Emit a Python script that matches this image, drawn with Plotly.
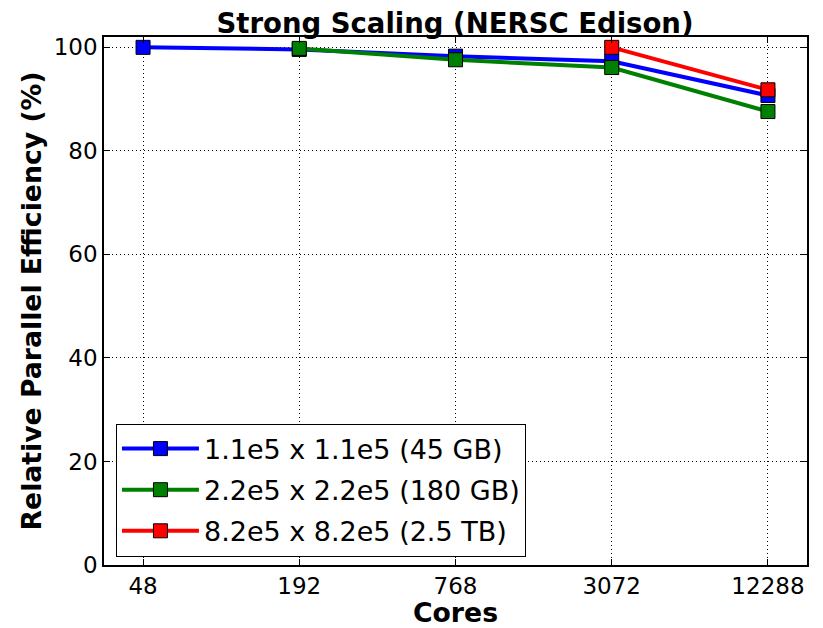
import plotly.graph_objects as go
import numpy as np

# cores on x, relative parallel efficiency (%) on y
cores = [48, 192, 768, 3072, 12288]
tick_labels = ['48', '192', '768', '3072', '12288']

cores_45gb = [48, 192, 768, 3072, 12288]
eff_45gb = [100.0, 99.6, 98.3, 97.3, 90.7]

cores_180gb = [192, 768, 3072, 12288]
eff_180gb = [99.8, 97.6, 96.1, 87.6]

cores_2tb = [3072, 12288]
eff_2tb = [100.0, 91.8]

names = ['1.1e5 x 1.1e5 (45 GB)', '2.2e5 x 2.2e5 (180 GB)', '8.2e5 x 8.2e5 (2.5 TB)']
colors = ['#0000ff', '#008000', '#ff0000']

fig = go.Figure()

series = [(cores_45gb, eff_45gb), (cores_180gb, eff_180gb), (cores_2tb, eff_2tb)]
for i, (x, y) in enumerate(series):
    fig.add_trace(go.Scatter(x=x, y=y, name=names[i], mode='lines+markers', legendgroup=str(i),
                             line=dict(color=colors[i], width=4),
                             marker=dict(symbol='square', size=14, color=colors[i],
                                         line=dict(color='black', width=1))))

# page body has an 8px margin, so the figure is a bit smaller than the window
W, H = 815, 620
half = 0.5*np.log10(2)
fig.update_layout(
    width=W, height=H,
    plot_bgcolor='white', paper_bgcolor='white',
    font=dict(family='DejaVu Sans', size=23, color='black'),
    title=dict(text='<b>Strong Scaling (NERSC Edison)</b>', x=447/W, xanchor='center',
               yref='container', y=1-15/H, yanchor='middle', font=dict(size=27.5)),
    margin=dict(l=96, r=16, t=29, b=63, autoexpand=False),
    legend=dict(x=0.017, y=0.016, xanchor='left', yanchor='bottom',
                bordercolor='black', borderwidth=1, bgcolor='white',
                font=dict(size=27), itemwidth=77, tracegroupgap=3),
)

grid = dict(showgrid=True, gridcolor='black', griddash='1px,3px', gridwidth=1,
            showline=True, linecolor='black', linewidth=1.5, mirror='ticks',
            ticks='inside', ticklen=6, tickcolor='black', automargin=False)

fig.update_xaxes(type='log', range=[np.log10(48)-half, np.log10(12288)+half],
                 tickvals=cores, ticktext=tick_labels,
                 title=dict(text='<b>Cores</b>', font=dict(size=26.7), standoff=4), **grid)
fig.update_yaxes(range=[0, 102], tickvals=[0, 20, 40, 60, 80, 100], zeroline=False,
                 title=dict(text='<b>Relative Parallel Efficiency (%)</b>', font=dict(size=26.7), standoff=4),
                 **grid)

fig.write_html("out.html")
